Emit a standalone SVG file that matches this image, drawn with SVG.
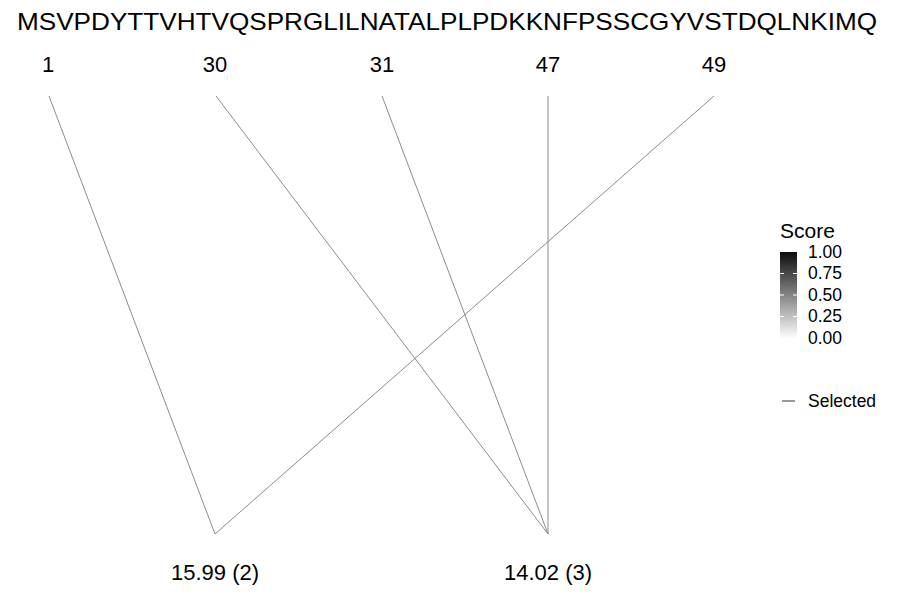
<svg xmlns="http://www.w3.org/2000/svg" width="900" height="600" viewBox="0 0 900 600">
<defs>
<linearGradient id="sg" x1="0" y1="1" x2="0" y2="0">
<stop offset="0" stop-color="#ffffff"/>
<stop offset="1" stop-color="#0d0d0d"/>
</linearGradient>
<style>
text{font-family:"Liberation Sans",Arial,sans-serif;fill:#000}
.seq{font-size:24px}
.pos{font-size:22px;text-anchor:middle}
.lab{font-size:22px;text-anchor:middle}
.leg{font-size:17.5px}
.ttl{font-size:21px}
.edge{stroke:#8c8c8c;stroke-width:1;fill:none}
.tick{stroke:#ffffff;stroke-width:1}
</style>
</defs>
<rect width="900" height="600" fill="#ffffff"/>
<text class="seq" x="17" y="30" textLength="860" lengthAdjust="spacingAndGlyphs">MSVPDYTTVHTVQSPRGLILNATALPLPDKKNFPSSCGYVSTDQLNKIMQ</text>
<g id="p1"><text class="pos" x="48" y="72">1</text></g>
<g id="p30"><text class="pos" x="215" y="72">30</text></g>
<g id="p31"><text class="pos" x="382" y="72">31</text></g>
<g id="p47"><text class="pos" x="548" y="72">47</text></g>
<g id="p49"><text class="pos" x="714" y="72">49</text></g>
<g id="connectors">
<line class="edge" x1="49" y1="96" x2="215" y2="534"/>
<line class="edge" x1="216" y1="96" x2="548" y2="534"/>
<line class="edge" x1="382" y1="96" x2="548" y2="534"/>
<line class="edge" x1="548" y1="96" x2="548" y2="534"/>
<line class="edge" x1="714" y1="96" x2="215" y2="534"/>
</g>
<g id="m1"><text class="lab" x="215" y="580">15.99 (2)</text></g>
<g id="m2"><text class="lab" x="548" y="580">14.02 (3)</text></g>
<g id="legend">
<text class="ttl" x="780" y="238">Score</text>
<rect x="780" y="252" width="17" height="87" fill="url(#sg)"/>
<line class="tick" x1="780" y1="273.5" x2="784" y2="273.5"/>
<line class="tick" x1="793" y1="273.5" x2="797" y2="273.5"/>
<line class="tick" x1="780" y1="295" x2="784" y2="295"/>
<line class="tick" x1="793" y1="295" x2="797" y2="295"/>
<line class="tick" x1="780" y1="316.5" x2="784" y2="316.5"/>
<line class="tick" x1="793" y1="316.5" x2="797" y2="316.5"/>
<text class="leg" x="808" y="258">1.00</text>
<text class="leg" x="808" y="279">0.75</text>
<text class="leg" x="808" y="301">0.50</text>
<text class="leg" x="808" y="322">0.25</text>
<text class="leg" x="808" y="344">0.00</text>
<line x1="782" y1="401" x2="795" y2="401" stroke="#333" stroke-width="1"/>
<text class="leg" x="808" y="407">Selected</text>
</g>
</svg>
